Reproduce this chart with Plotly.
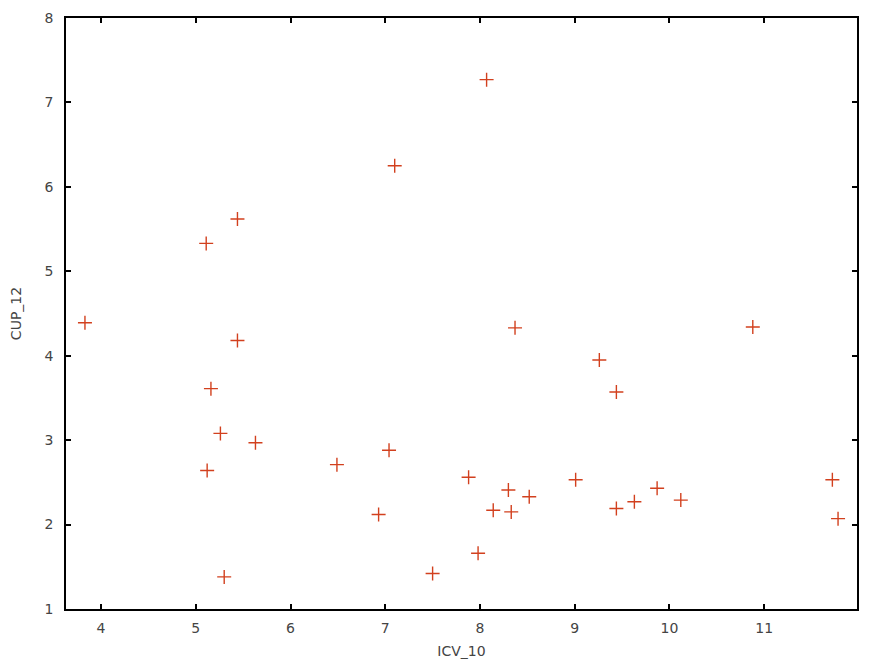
import plotly.graph_objects as go

icv_10 = [3.83, 5.11, 5.44, 7.10, 8.07, 5.44, 5.16, 5.26, 5.63, 5.12, 5.30,
          6.49, 7.04, 6.93, 7.50, 7.88, 7.98, 8.14, 8.30, 8.33, 8.52, 8.37,
          9.01, 9.26, 9.44, 9.44, 9.63, 9.87, 10.12, 10.88, 11.72, 11.78]
cup_12 = [4.39, 5.33, 5.62, 6.25, 7.27, 4.18, 3.61, 3.08, 2.97, 2.64, 1.38,
          2.71, 2.88, 2.12, 1.42, 2.56, 1.66, 2.17, 2.41, 2.15, 2.33, 4.33,
          2.53, 3.95, 3.57, 2.19, 2.27, 2.43, 2.29, 4.34, 2.53, 2.07]

fig = go.Figure(go.Scatter(
    x=icv_10, y=cup_12, mode="markers",
    marker=dict(symbol="cross-thin", size=10,
                line=dict(color="#d2401e", width=1.4)),
))

font = dict(family="DejaVu Sans, Verdana, sans-serif", size=14, color="#444444")
axis_common = dict(showgrid=False, zeroline=False, showline=True, linecolor="black",
                   linewidth=1.5, mirror="ticks", ticks="inside", ticklen=5,
                   tickcolor="black", tickwidth=1.5, tickfont=font, automargin=False)
fig.update_layout(
    width=877, height=656,
    margin=dict(l=58, r=28, t=10, b=55),
    plot_bgcolor="white", paper_bgcolor="white",
    showlegend=False,
    xaxis=dict(range=[3.63, 11.98], tickvals=[4, 5, 6, 7, 8, 9, 10, 11], ticklabelstandoff=5,
               title=dict(text="ICV_10", font=font, standoff=12), **axis_common),
    yaxis=dict(range=[1, 8], tickvals=[1, 2, 3, 4, 5, 6, 7, 8], ticklabelstandoff=8,
               title=dict(text="CUP_12", font=font, standoff=20), **axis_common),
)
fig.write_html("out.html")
